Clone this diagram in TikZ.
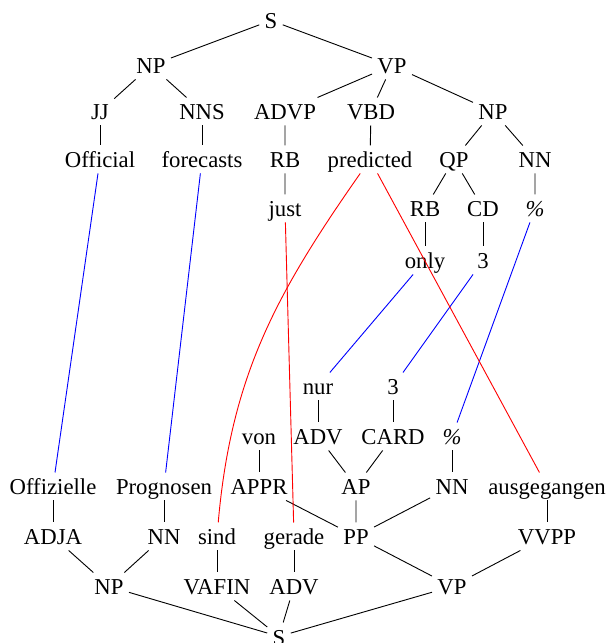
\documentclass[tikz,border=0pt]{standalone}
\usepackage{fontspec}
\setmainfont{Liberation Serif}
\usepackage{tikz}

\tikzset{
  lab/.style={anchor=base, inner sep=2.2pt, text height=7.5pt, text depth=0pt},
  tree/.style={black, line width=0.4pt},
  align1/.style={blue, line width=0.4pt},
  align2/.style={red, line width=0.4pt}
}

\begin{document}
\begin{tikzpicture}[x=0.44pt,y=0.44pt]
\useasboundingbox (0,0) rectangle (606,643);
% 英文句法树
\node[lab] (s)     at (271,614) {S};
\node[lab] (np)    at (151,569) {NP};
\node[lab] (vp)    at (392,569) {VP};
\node[lab] (jj)    at (100,523) {JJ};
\node[lab] (nns)   at (202,523) {NNS};
\node[lab] (advp)  at (285,523) {ADVP};
\node[lab] (vbd)   at (371,523) {VBD};
\node[lab] (npb)   at (493,523) {NP};
\node[lab] (official)  at (100,475) {Official};
\node[lab] (forecasts) at (202,475) {forecasts};
\node[lab] (rb)        at (285,475) {RB};
\node[lab] (predicted) at (370,475) {predicted};
\node[lab] (qp)        at (454,475) {QP};
\node[lab] (nn)        at (535,475) {NN};
\node[lab] (just)  at (285,426) {just};
\node[lab] (rbb)   at (425,426) {RB};
\node[lab] (cd)    at (483,426) {CD};
\node[lab] (pct)   at (535,426) {\textit{\%}};
\node[lab] (only)  at (425,374) {only};
\node[lab] (three) at (483,374) {3};
\draw[tree] (s) -- (np) (s) -- (vp);
\draw[tree] (np) -- (jj) (np) -- (nns);
\draw[tree] (vp) -- (advp) (vp) -- (vbd) (vp) -- (npb);
\draw[tree] (jj) -- (official) (nns) -- (forecasts);
\draw[tree] (advp) -- (rb) (vbd) -- (predicted);
\draw[tree] (npb) -- (qp) (npb) -- (nn);
\draw[tree] (rb) -- (just) (qp) -- (rbb) (qp) -- (cd) (nn) -- (pct);
\draw[tree] (rbb) -- (only) (cd) -- (three);
% 德文句法树（倒置）
\node[lab] (nur)    at (318,248) {nur};
\node[lab] (drei)   at (393,248) {3};
\node[lab] (von)    at (259,198) {von};
\node[lab] (adv)    at (318,198) {ADV};
\node[lab] (card)   at (393,198) {CARD};
\node[lab] (prozent) at (452,198) {\textit{\%}};
\node[lab] (offizielle) at (53,148) {Offizielle};
\node[lab] (prognosen)  at (164,148) {Prognosen};
\node[lab] (appr)       at (259,148) {APPR};
\node[lab] (ap)         at (356,148) {AP};
\node[lab] (nnd)        at (452,148) {NN};
\node[lab] (ausgegangen) at (547,148) {ausgegangen};
\node[lab] (adja)   at (53,98)  {ADJA};
\node[lab] (nne)    at (164,98) {NN};
\node[lab] (sind)   at (217,98) {sind};
\node[lab] (gerade) at (294,98) {gerade};
\node[lab] (pp)     at (356,98) {PP};
\node[lab] (vvpp)   at (547,98) {VVPP};
\node[lab] (npd)    at (109,48) {NP};
\node[lab] (vafin)  at (217,48) {VAFIN};
\node[lab] (advb)   at (294,48) {ADV};
\node[lab] (vpd)    at (452,48) {VP};
\node[lab] (sd)     at (279,-2) {S};
\draw[tree] (nur) -- (adv) (drei) -- (card) (von) -- (appr) (prozent) -- (nnd);
\draw[tree] (adv) -- (ap) (card) -- (ap);
\draw[tree] (offizielle) -- (adja) (prognosen) -- (nne) (ausgegangen) -- (vvpp);
\draw[tree] (appr) -- (pp) (ap) -- (pp) (nnd) -- (pp);
\draw[tree] (adja) -- (npd) (nne) -- (npd);
\draw[tree] (sind) -- (vafin) (gerade) -- (advb);
\draw[tree] (pp) -- (vpd) (vvpp) -- (vpd);
\draw[tree] (npd) -- (sd) (vafin) -- (sd) (advb) -- (sd) (vpd) -- (sd);
% 词对齐
\draw[align1] (official) -- (offizielle);
\draw[align1] (forecasts) -- (prognosen);
\draw[align1] (only) -- (nur);
\draw[align1] (three) -- (drei);
\draw[align1] (pct) -- (prozent);
\draw[align2] (just) -- (gerade);
\draw[align2] (predicted) -- (ausgegangen);
\draw[align2] (predicted) to[out=-125,in=85] (sind);
\end{tikzpicture}
\end{document}
